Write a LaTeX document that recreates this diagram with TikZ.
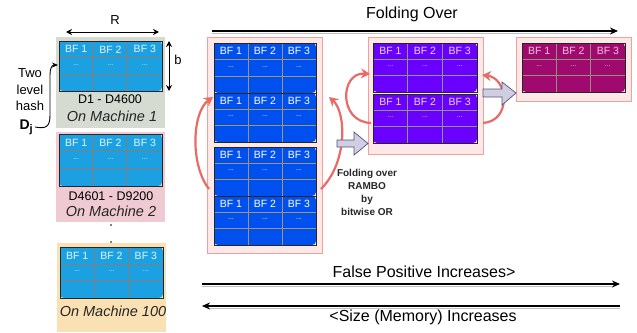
\documentclass[tikz,border=0pt]{standalone}
\usepackage{fontspec}
\setmainfont{Liberation Sans}
\usepackage{graphicx}
\usetikzlibrary{fit,arrows.meta,calc}

\definecolor{bgOne}{RGB}{213,219,208}
\definecolor{bgTwo}{RGB}{240,202,210}
\definecolor{bgThree}{RGB}{250,225,180}
\definecolor{lblue}{RGB}{27,161,226}
\definecolor{mblue}{RGB}{0,80,239}
\definecolor{purp}{RGB}{106,0,255}
\definecolor{mag}{RGB}{160,10,110}
\definecolor{pinkfill}{RGB}{252,232,230}
\definecolor{pinkline}{RGB}{242,160,155}
\definecolor{redarr}{RGB}{234,107,102}
\definecolor{barfill}{RGB}{208,206,226}
\definecolor{barline}{RGB}{86,81,126}
\definecolor{glineA}{RGB}{135,125,120}
\definecolor{glineB}{RGB}{160,150,110}
\definecolor{glineC}{RGB}{140,155,115}
\definecolor{glineD}{RGB}{145,145,125}
\definecolor{txtA}{RGB}{232,244,255}
\definecolor{txtC}{RGB}{232,218,255}
\definecolor{txtD}{RGB}{242,195,228}

\tikzset{
  celltext/.style={font=\fontsize{10.5}{11}\selectfont, inner sep=0pt},
  dotstext/.style={font=\fontsize{7}{7}\selectfont, inner sep=0pt},
  bgbox/.style={inner sep=0pt, draw=none},
  groupbox/.style={inner sep=0pt, fill=pinkfill, draw=pinkline, line width=0.8pt},
  lbl/.style={inner sep=0pt, font=\fontsize{12.5}{14}\selectfont},
  biglbl/.style={inner sep=0pt, font=\fontsize{16}{18}\selectfont},
  machlbl/.style={inner sep=0pt, font=\fontsize{14.5}{16}\selectfont\itshape, text=black!85},
  redcurve/.style={draw=redarr, line width=2.2pt, -{Stealth[length=9pt,width=10pt]}},
  longarrow/.style={draw=black, line width=1.2pt, -{Stealth[length=8pt,width=7pt]}},
  shadowline/.style={draw=black!25, line width=1.4pt},
  blockarrow/.style={fill=barfill, draw=barline, line width=0.7pt, line join=miter},
}

% name, x1, y1, x2, y2, fill, line colour, text colour
\newcommand\mygrid[8]{%
  \node[fit={(#2,#3) (#4,#5)}, inner sep=0pt, fill=#6, rounded corners=4pt] (#1) {};
  \foreach \i in {1,2}{%
    \draw[#7, line width=0.7pt] ({#2+\i*(#4-#2)/3},#3) -- ({#2+\i*(#4-#2)/3},#5);
    \draw[#7, line width=0.7pt] (#2,{#3+\i*(#5-#3)/3}) -- (#4,{#3+\i*(#5-#3)/3});
  }
  \draw[black!85, line width=0.5pt] (#1.north west) rectangle (#1.south east);
  \foreach \i in {1,2,3}{%
    \node[celltext, text=#8] at ({#2+(\i-0.5)*(#4-#2)/3},{#3+(#5-#3)/6}) {BF \i};
    \node[dotstext, text=#8] at ({#2+(\i-0.5)*(#4-#2)/3},{#3+(#5-#3)/2-1}) {...};
  }
}

\begin{document}
\begin{tikzpicture}[x=1pt,y=-1pt]
\useasboundingbox (0,0) rectangle (637,332);

% ---------- left column ----------
\node[bgbox, fill=bgOne, fit={(56,37) (165,128)}] (mach1) {};
\node[bgbox, fill=bgTwo, fit={(56,132) (165,222)}] (mach2) {};
\node[bgbox, fill=bgThree, fit={(57,243) (166,332)}] (mach3) {};

\mygrid{la}{59}{41}{162}{91}{lblue}{glineA}{txtA}
\mygrid{lb}{59}{134}{162}{186}{lblue}{glineA}{txtA}
\mygrid{lc}{60}{247}{163}{298}{lblue}{glineA}{txtA}

\node[lbl] (d1) at (110,99) {D1 - D4600};
\node[machlbl] (om1) at (112,116) {On Machine 1};
\node[lbl] (d2) at (111,196) {D4601 - D9200};
\node[machlbl] (om2) at (111,211) {On Machine 2};
\node[machlbl] (om3) at (113,311) {On Machine 100};

\fill[black] (111,225) circle (0.8) (111,242) circle (0.8);

% R and b
\coordinate (rl) at (66,32);
\coordinate (rr) at (159,32);
\draw[line width=1pt, {Stealth[length=6pt,width=6pt]}-{Stealth[length=6pt,width=6pt]}] (rl) -- (rr);
\node[inner sep=0pt, font=\fontsize{13}{13}\selectfont] (rlab) at (115,20) {R};
\coordinate (bt) at (169,41);
\coordinate (bb) at (169,91);
\draw[line width=1pt, {Stealth[length=6pt,width=6pt]}-{Stealth[length=6pt,width=6pt]}] (bt) -- (bb);
\node[inner sep=0pt, font=\fontsize{13}{13}\selectfont] (blab) at (178,60) {b};

% two level hash
\node[inner sep=0pt, font=\fontsize{13}{16.5}\selectfont, align=center] (hash) at (30,90) {Two\\level\\hash};
\node[inner sep=0pt, font=\fontsize{14}{14}\selectfont\bfseries, anchor=east] (dj) at (33,127) {D\raisebox{-3pt}{\fontsize{11}{11}\selectfont j}};
\coordinate (hin) at (58,65);
\draw[line width=0.9pt, -{Stealth[length=6pt,width=5pt]}] ([xshift=2pt]dj.east) .. controls (46,129) and (50,127) .. (50,115) -- (50,75) .. controls (50,68) and (52,65) .. (hin);

% ---------- middle group ----------
\node[groupbox, fit={(207,37) (322,253)}] (g1) {};
\mygrid{ma}{214}{43}{316}{93}{mblue}{glineB}{white}
\mygrid{mb}{214}{93}{316}{142}{mblue}{glineB}{white}
\mygrid{mc}{214}{147}{316}{196}{mblue}{glineB}{white}
\mygrid{md}{214}{196}{316}{245}{mblue}{glineB}{white}

\coordinate (ml1) at (209,189);
\coordinate (ml2) at (213,97);
\coordinate (mr1) at (321,189);
\coordinate (mr2) at (329,97);
\draw[redcurve] (ml1) .. controls (190,165) and (192,112) .. (ml2);
\draw[redcurve] (mr1) .. controls (348,162) and (346,112) .. (mr2);

% ---------- second group ----------
\node[groupbox, fit={(368,37) (483,154)}] (g2) {};
\mygrid{pa}{373}{43}{477}{92}{purp}{glineC}{txtC}
\mygrid{pb}{373}{94}{477}{143}{purp}{glineC}{txtC}

\coordinate (pl1) at (371,123);
\coordinate (pl2) at (370,74);
\coordinate (pr1) at (483,123);
\coordinate (pr2) at (482,75);
\draw[redcurve] (pl1) .. controls (338,122) and (340,72) .. (pl2);
\draw[redcurve] (pr1) .. controls (512,121) and (508,78) .. (pr2);

% ---------- third group ----------
\node[groupbox, fit={(516,37) (631,101)}] (g3) {};
\mygrid{qa}{522}{43}{625}{92}{mag}{glineD}{txtD}

% ---------- block arrows ----------
\draw[blockarrow] (337,140) -- (354,140) -- (354,132) -- (368,143.5) -- (354,155) -- (354,147) -- (337,147) -- cycle;
\draw[blockarrow] (483,89) -- (502,89) -- (502,82) -- (516,93) -- (502,105) -- (502,97) -- (483,97) -- cycle;

\node[inner sep=0pt, font=\fontsize{10}{13}\selectfont\bfseries, align=center, text=black!85] (fold) at (367,192) {Folding over\\RAMBO\\by\\bitwise OR};

% ---------- long arrows ----------
\coordinate (fa) at (212,31);
\coordinate (fb) at (618,31);
\draw[shadowline] ([yshift=-2.2pt]fa) -- ([yshift=-2.2pt,xshift=-6pt]fb);
\draw[longarrow] (fa) -- (fb);
\node[biglbl] (foldover) at (412,14) {Folding Over};

\coordinate (pa1) at (202,284);
\coordinate (pa2) at (620,284);
\draw[shadowline] ([yshift=-2.2pt]pa1) -- ([yshift=-2.2pt,xshift=-6pt]pa2);
\draw[longarrow] (pa1) -- (pa2);
\node[biglbl] (fp) at (424,272) {False Positive Increases>};

\coordinate (sa1) at (620,306);
\coordinate (sa2) at (202,306);
\draw[shadowline] ([yshift=-2.2pt]sa1) -- ([yshift=-2.2pt,xshift=6pt]sa2);
\draw[longarrow] (sa1) -- (sa2);
\node[biglbl] (sz) at (423,317) {<Size (Memory) Increases};

\end{tikzpicture}
\end{document}
